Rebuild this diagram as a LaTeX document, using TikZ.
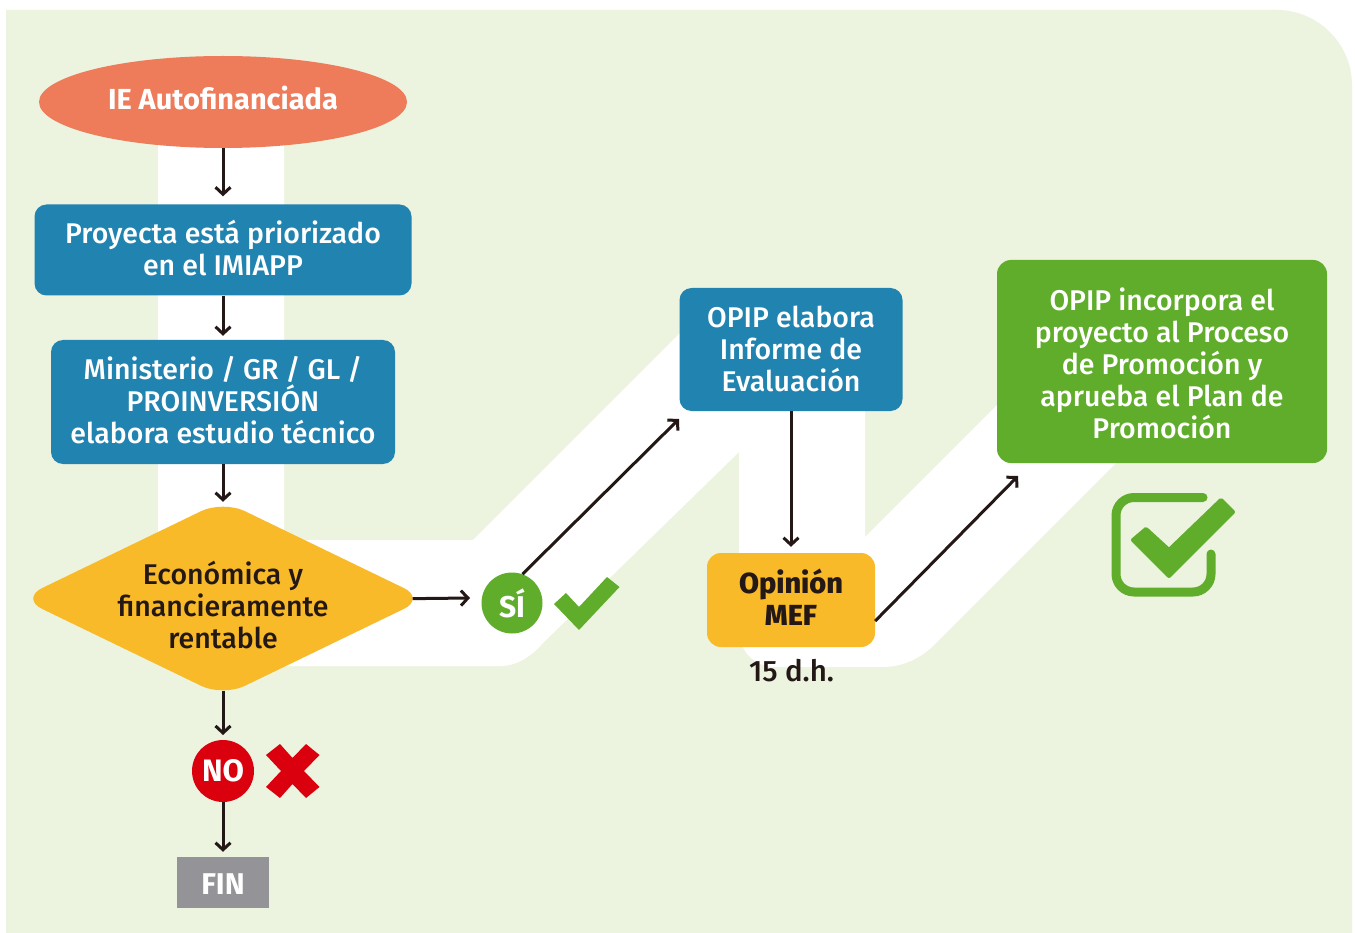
\documentclass[tikz,border=0pt]{standalone}
\usepackage{fontspec}
\setmainfont{Fira Sans Medium}[BoldFont={Fira Sans Bold}]
\newfontfamily\heavyf{Fira Sans ExtraBold}
\usetikzlibrary{shapes.geometric,arrows.meta}
\definecolor{bgc}{HTML}{ECF4E0}
\definecolor{ora}{HTML}{EE7B5A}
\definecolor{blu}{HTML}{2183AF}
\definecolor{yel}{HTML}{F8BA28}
\definecolor{grn}{HTML}{60AD2B}
\definecolor{redc}{HTML}{DA000E}
\definecolor{gry}{HTML}{949397}
\definecolor{ink}{HTML}{231815}
\tikzset{
  txt/.style={font=\fontsize{28.5}{32}\selectfont,align=center,inner sep=0pt},
  bluebox/.style={fill=blu,rounded corners=12pt,inner sep=0pt},
  wtxt/.style={txt,text=white},
  flow/.style={draw=ink,line width=3pt,-{Straight Barb[length=7pt,width=15pt,line width=3pt]}},
}
\begin{document}
\begin{tikzpicture}[x=1pt,y=-1pt]
\useasboundingbox (0,0) rectangle (1355,933);
\fill[white] (0,0) rectangle (1355,933);
\fill[bgc] (6,10) -- (1277,10) .. controls (1318,10) and (1352,44) .. (1352,85) -- (1352,933) -- (6,933) -- cycle;
\fill[white] (158,140) -- (284,140) -- (284,540) -- (473,540) -- (680,333) -- (865,333) -- (865,537) -- (1000,402) -- (1116,402) -- (1116,463) -- (932,647) .. controls (918,660) and (900,667) .. (883,667) -- (775,667) .. controls (755,667) and (739,651) .. (739,631) -- (739,452) -- (543,643) .. controls (530,658) and (515,666) .. (501,666) -- (223,666) -- (223,600) -- (158,600) -- cycle;

\node[ellipse,fill=ora,minimum width=368pt,minimum height=92pt,inner sep=0pt,label={[wtxt,font=\fontsize{29}{32}\selectfont\bfseries,yshift=4pt]center:{IE Autofinanciada}}] (start) at (223,102) {};

\node[bluebox,minimum width=377pt,minimum height=91pt,label={[wtxt,yshift=2pt]center:{Proyecta está priorizado\\en el IMIAPP}}] (prio) at (223,250) {};
\node[bluebox,minimum width=344pt,minimum height=124pt,label={[wtxt,yshift=2pt]center:{Ministerio / GR / GL /\\PROINVERSIÓN\\elabora estudio técnico}}] (min) at (223,402) {};
\node[diamond,fill=yel,minimum width=405pt,minimum height=196pt,inner sep=0pt,rounded corners=24pt,label={[txt,text=ink,yshift=-7pt]center:{Económica y\\financieramente\\rentable}}] (dia) at (223,598.5) {};
\node[circle,fill=grn,minimum size=61pt,inner sep=0pt,label={[wtxt,font=\fontsize{30}{32}\selectfont\bfseries]center:{SÍ}}] (si) at (512,603) {};
\node[circle,fill=redc,minimum size=62pt,inner sep=0pt,label={[wtxt,font=\fontsize{31}{32}\selectfont\bfseries]center:{NO}}] (no) at (223,771) {};
\node[fill=gry,minimum width=92pt,minimum height=51pt,inner sep=0pt,label={[wtxt,font=\fontsize{30}{32}\selectfont\bfseries,yshift=-2pt]center:{FIN}}] (fin) at (223,882.5) {};
\node[bluebox,minimum width=223pt,minimum height=123pt,label={[wtxt,yshift=1pt]center:{OPIP elabora\\Informe de\\Evaluación}}] (opip) at (791,349.5) {};
\node[fill=yel,rounded corners=14pt,minimum width=168pt,minimum height=94pt,inner sep=0pt,label={[txt,text=ink,font=\fontsize{29}{32}\selectfont\heavyf,yshift=3pt]center:{Opinión\\MEF}}] (mef) at (791,600) {};
\node[txt,text=ink,font=\fontsize{29.5}{32}\selectfont] (dias) at (791.5,670.5) {15 d.h.};
\node[fill=grn,rounded corners=14pt,minimum width=330pt,minimum height=203pt,inner sep=0pt,label={[wtxt,yshift=-2pt]center:{OPIP incorpora el\\proyecto al Proceso\\de Promoción y\\aprueba el Plan de\\Promoción}}] (plan) at (1162,361.5) {};

\coordinate (opipin) at (679,419);
\coordinate (siin) at (470,598);
\coordinate (planin) at (1018,476);
\coordinate (noin) at (223,735);
\coordinate (startb) at (223,148);

\draw[flow,shorten >=8pt] (startb) -- (prio.north);
\draw[flow,shorten >=4pt] (prio.south) -- (min.north);
\draw[flow,shorten >=-1.5pt] (min.south) -- (dia.north);
\draw[flow,shorten <=-6pt] (dia.south) -- (noin);
\draw[flow] (no.south) -- ([yshift=5pt]fin.north);
\draw[flow,shorten <=-13pt] (dia.east) -- (siin);
\draw[flow] (si.70) -- (opipin);
\draw[flow,shorten >=6pt] (opip.south) -- (mef.north);
\draw[flow] ([yshift=-21pt]mef.east) -- (planin);

% tick beside SI
\fill[grn] (554,604) -- (566,593) -- (579,607) -- (607,577) -- (619.5,587) -- (579,630) -- cycle;
% cross beside NO
\fill[redc] (266,755) -- (280,744) -- (292.5,758) -- (306,744) -- (319.5,755) -- (304,771) -- (319.5,787) -- (306,798) -- (292.5,784) -- (280,798) -- (266,787) -- (281,771) -- cycle;
% check box
\draw[grn,line width=9pt,line cap=round,rounded corners=18pt] (1203,497.5) -- (1116,497.5) -- (1116,592) -- (1211,592) -- (1211,554);
\fill[grn,draw=grn,line width=4pt,line join=round] (1133,540) -- (1146,529) -- (1169,550) -- (1221,500) -- (1233,512) -- (1169,576) -- cycle;
\end{tikzpicture}
\end{document}
